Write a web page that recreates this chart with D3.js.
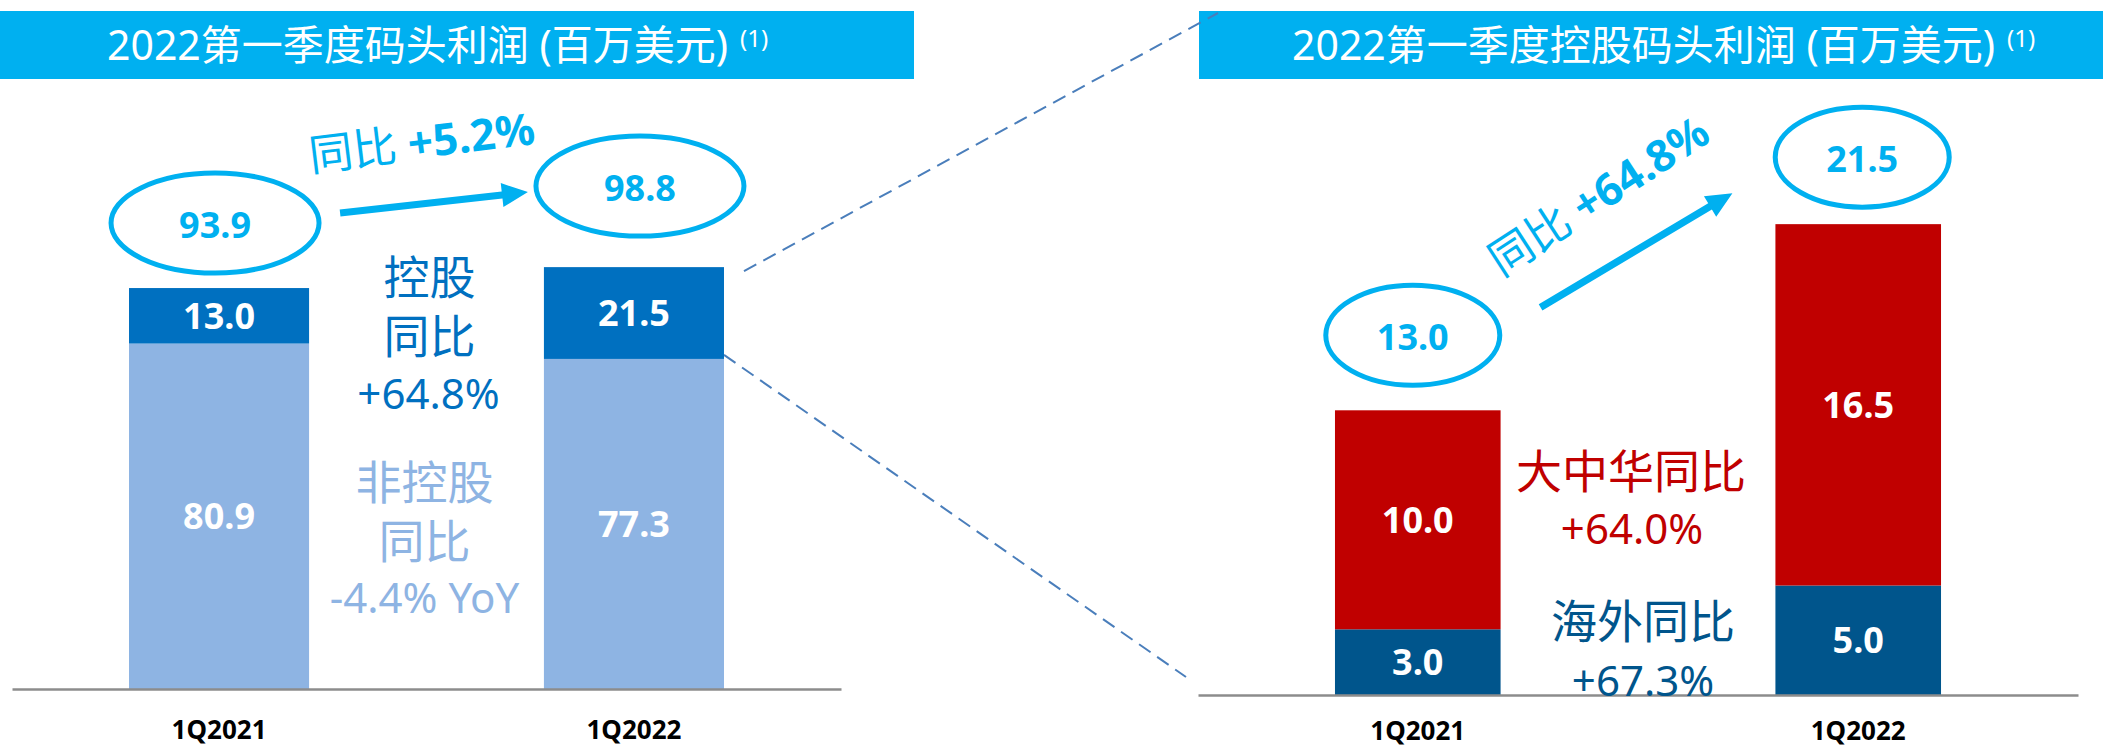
<!DOCTYPE html>
<meta charset="utf-8">
<html>
<head>
<script src="https://d3js.org/d3.v7.min.js"></script>
<style>
  body { margin: 0; background: white; }
  text { font-family: "Noto Sans", "Noto Sans CJK SC", sans-serif; }
</style>
</head>
<body>
<div id="chart"></div>
<script>
// data
const categories = ["1Q2021", "1Q2022"];
const leftTotals = [93.9, 98.8];
const leftControlled = [13.0, 21.5];
const leftNonControlled = [80.9, 77.3];
const rightTotals = [13.0, 21.5];
const rightGreaterChina = [10.0, 16.5];
const rightOverseas = [3.0, 5.0];

const leftTitle = "2022第一季度码头利润 (百万美元)";
const rightTitle = "2022第一季度控股码头利润 (百万美元)";
const noteMark = "(1)";

// colours
const cyan = "#00B0F0";
const ctrlBlue = "#0070C0";
const nonBlue = "#8EB4E3";
const red = "#C00000";
const navy = "#00558C";

const W = 2103, H = 748;
const svg = d3.select("#chart").append("svg")
    .attr("width", W).attr("height", H);

// scales
const xL = d3.scaleBand().domain(categories).range([12, 841])
    .paddingInner(0.566).paddingOuter(0.282);
const yL = d3.scaleLinear().domain([0, 100]).range([689, 262]);
const xR = d3.scaleBand().domain(categories).range([1198, 2078])
    .paddingInner(0.624).paddingOuter(0.311);
const yR = d3.scaleLinear().domain([0, 25]).range([695, 147.5]);

// title banners
function banner(x0, x1, textX, label) {
    svg.append("rect").attr("x", x0).attr("y", 11).attr("width", x1 - x0).attr("height", 68)
        .attr("fill", cyan);
    const t = svg.append("text").attr("x", textX).attr("y", 60)
        .attr("fill", "white").attr("font-size", 41).text(label);
    t.append("tspan").attr("dx", 12).attr("dy", -13).attr("font-size", 24).text(noteMark);
}
banner(0, 914, 107, leftTitle);
banner(1199, W, 1292, rightTitle);

// dashed connectors
const bwL = xL.bandwidth();
svg.append("line")
    .attr("x1", xL(categories[1]) + bwL + 20).attr("y1", yL(leftTotals[1]) + 4)
    .attr("x2", 1218).attr("y2", 13)
    .attr("stroke", "#4A7EBB").attr("stroke-width", 2).attr("stroke-dasharray", "14,8");
svg.append("line")
    .attr("x1", xL(categories[1]) + bwL).attr("y1", yL(leftNonControlled[1]) - 4)
    .attr("x2", xR.range()[0] - 12).attr("y2", yR(0) - 18)
    .attr("stroke", "#4A7EBB").attr("stroke-width", 2).attr("stroke-dasharray", "14,8");

// stacked bars
function stackedBars(x, y, first, second, c1, c2) {
    const rows = categories.map((c, i) => ({ cat: c, a: first[i], b: second[i] }));
    const series = d3.stack().keys(["a", "b"])(rows);
    const colors = [c1, c2];
    series.forEach((s, k) => {
        svg.append("g").selectAll("rect").data(s).join("rect")
            .attr("x", d => x(d.data.cat))
            .attr("y", d => y(d[1]))
            .attr("width", x.bandwidth())
            .attr("height", d => y(d[0]) - y(d[1]))
            .attr("fill", colors[k]);
        svg.append("g").selectAll("text").data(s).join("text")
            .attr("x", d => x(d.data.cat) + x.bandwidth() / 2)
            .attr("y", d => (y(d[0]) + y(d[1])) / 2)
            .attr("dy", "0.36em")
            .attr("text-anchor", "middle")
            .attr("fill", "white").attr("font-weight", "bold").attr("font-size", 36)
            .text(d => (d[1] - d[0]).toFixed(1));
    });
}
stackedBars(xL, yL, leftNonControlled, leftControlled, nonBlue, ctrlBlue);
stackedBars(xR, yR, rightOverseas, rightGreaterChina, navy, red);

// axes
function axis(x, y0, pad) {
    const g = svg.append("g").attr("transform", "translate(0," + y0 + ")")
        .call(d3.axisBottom(x).tickSize(0).tickPadding(pad));
    g.select(".domain").attr("stroke", "#8C8C8C").attr("stroke-width", 2.5);
    g.selectAll("text").attr("font-family", "'Noto Sans', sans-serif")
        .attr("font-size", 26).attr("font-weight", "bold").attr("fill", "black");
}
axis(xL, yL(0), 32);
axis(xR, yR(0), 27);

// total bubbles
function bubbles(x, y, totals, rx, ry, lift, shift) {
    totals.forEach((v, i) => {
        const cx = x(categories[i]) + x.bandwidth() / 2 + shift[i];
        const cy = y(v) - lift[i];
        svg.append("ellipse").attr("cx", cx).attr("cy", cy).attr("rx", rx).attr("ry", ry)
            .attr("fill", "none").attr("stroke", cyan).attr("stroke-width", 5);
        svg.append("text").attr("x", cx).attr("y", cy + 2).attr("dy", "0.36em")
            .attr("text-anchor", "middle").attr("fill", cyan)
            .attr("font-weight", "bold").attr("font-size", 36).text(v.toFixed(1));
    });
}
bubbles(xL, yL, leftTotals, 104, 50, [65, 81], [-4, 6]);
bubbles(xR, yR, rightTotals, 87, 50, [75, 67], [-5, 4]);

// growth arrows
function arrow(x1, y1, x2, y2) {
    const a = Math.atan2(y2 - y1, x2 - x1);
    const len = Math.hypot(x2 - x1, y2 - y1);
    const hl = 26, hw = 12, sw = 3.6;
    const pts = [[0, -sw], [len - hl, -sw], [len - hl, -hw], [len, 0],
                 [len - hl, hw], [len - hl, sw], [0, sw]];
    svg.append("path")
        .attr("d", d3.line()(pts) + "Z")
        .attr("transform", "translate(" + x1 + "," + y1 + ") rotate(" + (a * 180 / Math.PI) + ")")
        .attr("fill", cyan);
}
arrow(xL(categories[0]) + bwL + 31, yL(leftTotals[0]) - 75,
      xL(categories[1]) - 16, yL(leftTotals[1]) - 75);
arrow(xR(categories[0]) + xR.bandwidth() + 40, yR(rightTotals[0]) - 103,
      xR(categories[1]) - 43, yR(rightTotals[1]) - 31);

function growthLabel(cx, cy, angle, pct) {
    const t = svg.append("text")
        .attr("transform", "translate(" + cx + "," + cy + ") rotate(" + angle + ")")
        .attr("text-anchor", "middle").attr("dy", "0.36em").attr("fill", cyan);
    t.append("tspan").attr("font-size", 44).text("同比 ");
    t.append("tspan").attr("font-size", 44).attr("font-weight", "bold").text(pct);
}
growthLabel(423, 152, -7, "+5.2%");
growthLabel(1604, 204, -33, "+64.8%");

// side notes between bars
function note(x, y, size, color, label) {
    svg.append("text").attr("x", x).attr("y", y).attr("text-anchor", "middle")
        .attr("font-size", size).attr("fill", color).text(label);
}
const midL = (xL(categories[0]) + xL(categories[1]) + bwL) / 2;
note(midL + 3, 294, 46, ctrlBlue, "控股");
note(midL + 3, 353, 46, ctrlBlue, "同比");
note(midL + 2, 409, 42, ctrlBlue, "+64.8%");
note(midL - 2, 499, 46, nonBlue, "非控股");
note(midL - 2, 558, 46, nonBlue, "同比");
note(midL - 2, 613, 42, nonBlue, "-4.4% YoY");

const midR = (xR(categories[0]) + xR(categories[1]) + xR.bandwidth()) / 2;
note(midR - 7, 488, 46, red, "大中华同比");
note(midR - 6, 544, 42, red, "+64.0%");
note(midR + 5, 638, 46, navy, "海外同比");
note(midR + 5, 696, 42, navy, "+67.3%");
</script>
</body>
</html>
